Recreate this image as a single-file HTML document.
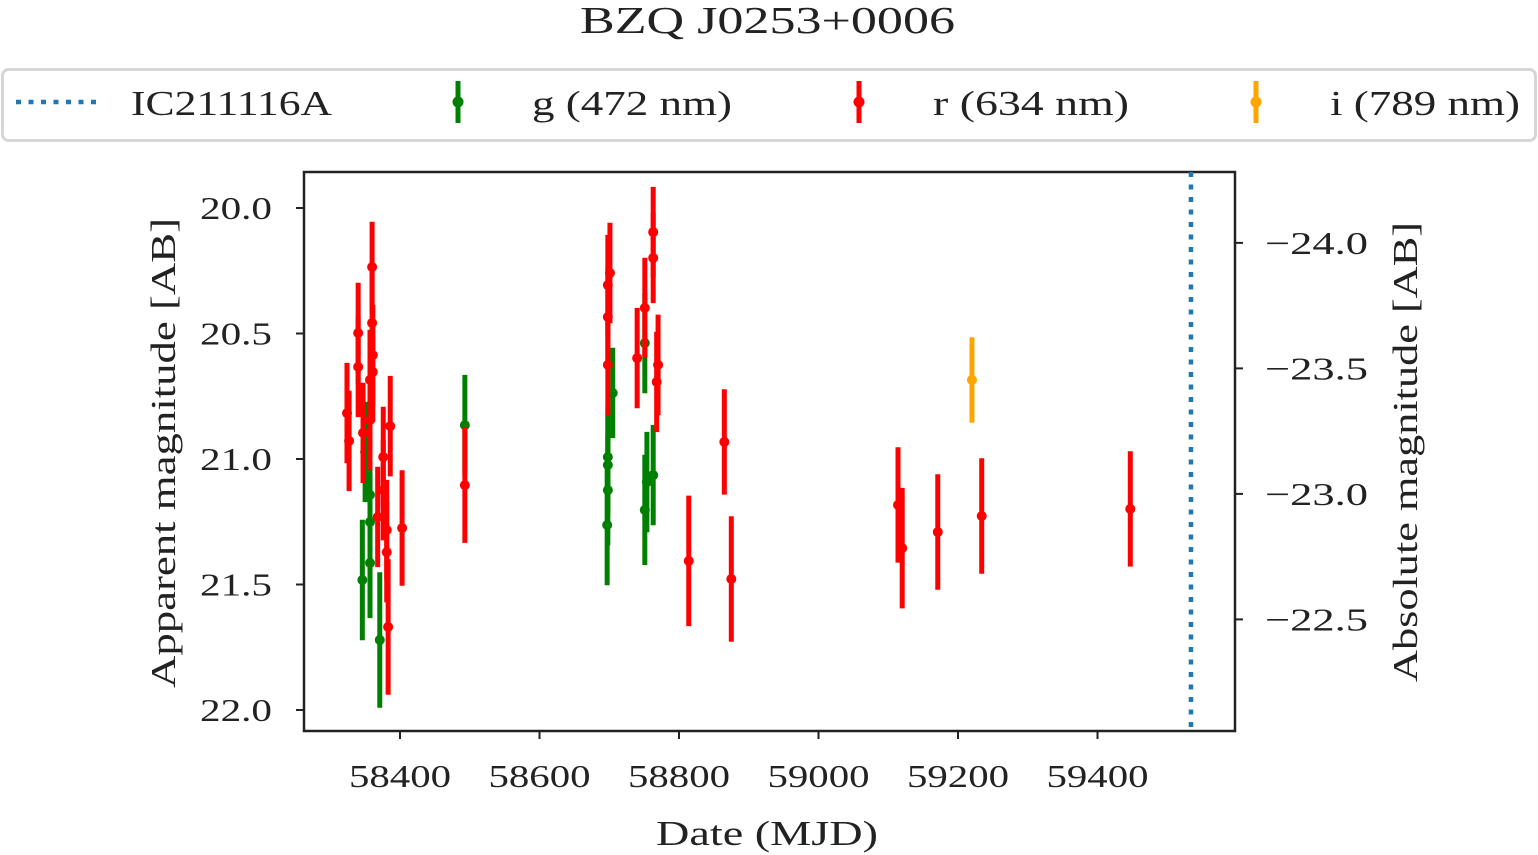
<!DOCTYPE html>
<html><head><meta charset="utf-8"><style>
html,body{margin:0;padding:0;background:#fff;}
svg{display:block;font-family:"Liberation Serif",serif;}
</style></head><body>
<svg id="chart" width="1538" height="855" viewBox="0 0 1538 855">
<text x="580" y="33" font-size="38" textLength="375" lengthAdjust="spacingAndGlyphs" fill="#222">BZQ J0253+0006</text>
<g>
<rect x="2.5" y="69.5" width="1533" height="71" rx="6" fill="#fff" stroke="#d6d6d6" stroke-width="3"/>
<g>
<line x1="16" y1="102" x2="100" y2="102" stroke="#1f77b4" stroke-width="4.5" stroke-dasharray="5,7.5"/>
<text x="131" y="115" font-size="35" textLength="201" lengthAdjust="spacingAndGlyphs" fill="#222">IC211116A</text></g>
<g>
<line x1="458" y1="81" x2="458" y2="123" stroke="green" stroke-width="5"/><circle cx="458" cy="102" r="5.5" fill="green"/>
<text x="532" y="115" font-size="35" textLength="200" lengthAdjust="spacingAndGlyphs" fill="#222">g (472 nm)</text></g>
<g>
<line x1="859" y1="81" x2="859" y2="123" stroke="red" stroke-width="5"/><circle cx="859" cy="102" r="5.5" fill="red"/>
<text x="933" y="115" font-size="35" textLength="196" lengthAdjust="spacingAndGlyphs" fill="#222">r (634 nm)</text></g>
<g>
<line x1="1256" y1="81" x2="1256" y2="123" stroke="orange" stroke-width="5"/><circle cx="1256" cy="102" r="5.5" fill="orange"/>
<text x="1330" y="115" font-size="35" textLength="190" lengthAdjust="spacingAndGlyphs" fill="#222">i (789 nm)</text></g>
</g>
<g id="plot"></g>
</svg>
<script>
const xTicks=[58400,58600,58800,59000,59200,59400];
const yTicks=[20.0,20.5,21.0,21.5,22.0];
const y2Ticks=[-24.0,-23.5,-23.0,-22.5];
const absOffset=44.139;
const neutrinoMJD=59534;
const rMJD=[58324,58327,58360,58340,58360,58361,58340,58361,58357,58357,58347,58386,58376,58376,58368,58381,58403,58381,58383,58493,58701,58698,58698,58698,58763,58763,58751,58740,58770,58768,58814,58865,58875,59114,59120,59171,59234,59447];
const rMag=[20.817,20.928,20.235,20.498,20.458,20.586,20.633,20.653,20.685,20.845,20.896,20.869,20.992,21.124,21.231,21.283,21.275,21.371,21.669,21.104,20.259,20.307,20.434,20.625,20.096,20.199,20.398,20.598,20.625,20.693,21.406,20.932,21.478,21.183,21.355,21.291,21.227,21.199];
const rErr=[0.2,0.2,0.18,0.2,0.2,0.2,0.2,0.2,0.2,0.2,0.2,0.2,0.2,0.2,0.2,0.2,0.23,0.2,0.27,0.23,0.2,0.2,0.2,0.2,0.18,0.18,0.2,0.2,0.2,0.2,0.26,0.21,0.25,0.23,0.24,0.23,0.23,0.23];
const gMJD=[58350,58357,58357,58357,58346,58371,58493,58705,58698,58698,58698,58697,58751,58763,58754,58751];
const gMag=[20.972,21.143,21.251,21.414,21.482,21.721,20.865,20.737,20.992,21.024,21.124,21.263,20.538,21.064,21.092,21.203];
const gErr=[0.2,0.22,0.22,0.22,0.24,0.27,0.2,0.18,0.2,0.2,0.22,0.24,0.2,0.2,0.2,0.22];
const iMJD=[59220];
const iMag=[20.685];
const iErr=[0.17];

const L=304,R=1235,T=172,B=731;
const X=v=>400+(v-58400)*0.6975;
const Y=v=>208+(v-20)*251;
const NS='http://www.w3.org/2000/svg';
const plot=document.getElementById('plot');
function mk(tag,attrs,parent){const e=document.createElementNS(NS,tag);for(const k in attrs)e.setAttribute(k,attrs[k]);(parent||plot).appendChild(e);return e;}

const frame=mk('rect',{x:L,y:T,width:R-L,height:B-T,fill:'none',stroke:'#222','stroke-width':2.5});



xTicks.forEach(t=>{
  const x=X(t);
  mk('line',{x1:x,y1:B,x2:x,y2:B+8,stroke:'#222','stroke-width':2});
  const tx=mk('text',{x:x-51,y:B+56,'font-size':32,textLength:102,lengthAdjust:'spacingAndGlyphs',fill:'#222'});
  tx.textContent=t;
  
  
});
yTicks.forEach(t=>{
  const y=Y(t);
  mk('line',{x1:L-8,y1:y,x2:L,y2:y,stroke:'#222','stroke-width':2});
  const tx=mk('text',{x:L-32-72,y:y+11,'font-size':32,textLength:72,lengthAdjust:'spacingAndGlyphs',fill:'#222'});
  tx.textContent=t.toFixed(1);
  
  
});
y2Ticks.forEach(t=>{
  const y=Y(t+absOffset);
  mk('line',{x1:R,y1:y,x2:R+8,y2:y,stroke:'#222','stroke-width':2});
  const tx=mk('text',{x:R+30,y:y+11,'font-size':32,textLength:103,lengthAdjust:'spacingAndGlyphs',fill:'#222'});
  tx.textContent='\u2212'+Math.abs(t).toFixed(1);
  
  
});

const xl=mk('text',{x:656,y:845,'font-size':35,textLength:222,lengthAdjust:'spacingAndGlyphs',fill:'#222'});
xl.textContent='Date (MJD)';


const yl=mk('text',{x:-235,y:0,'font-size':35,textLength:470,lengthAdjust:'spacingAndGlyphs',fill:'#222',transform:'translate(175,453) rotate(-90)'});
yl.textContent='Apparent magnitude [AB]';


const y2l=mk('text',{x:-230,y:0,'font-size':35,textLength:460,lengthAdjust:'spacingAndGlyphs',fill:'#222',transform:'translate(1417,452) rotate(-90)'});
y2l.textContent='Absolute magnitude [AB]';



function series(mjd,mag,err,color,name){
  const g=mk('g',{});
  
  
  mjd.forEach((m,i)=>{
    const x=X(m);
    const l=mk('line',{x1:x,y1:Y(mag[i]-err[i]),x2:x,y2:Y(mag[i]+err[i]),stroke:color,'stroke-width':5},g);
    
    
    const c=mk('circle',{cx:x,cy:Y(mag[i]),r:5,fill:color},g);
    
    
  });
}
series(gMJD,gMag,gErr,'green','g-band');
series(rMJD,rMag,rErr,'red','r-band');
series(iMJD,iMag,iErr,'orange','i-band');

const nx=X(neutrinoMJD);
const nl=mk('line',{x1:nx,y1:T,x2:nx,y2:B,stroke:'#1f77b4','stroke-width':4.5,'stroke-dasharray':'5,7.5'});


</script>
</body></html>
